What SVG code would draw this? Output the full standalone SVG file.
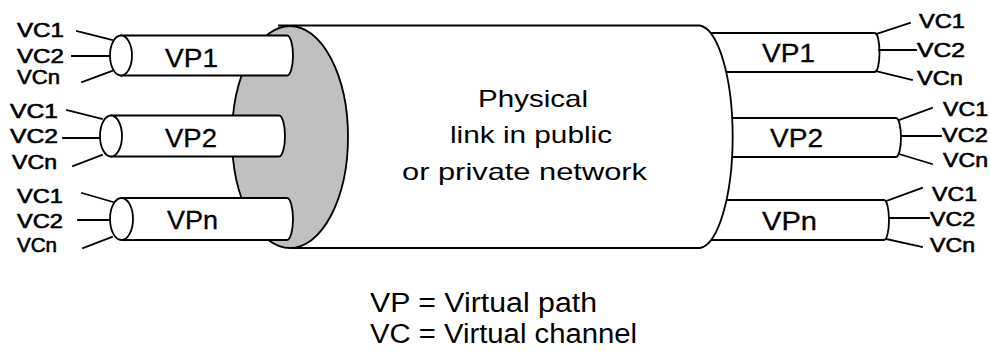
<svg xmlns="http://www.w3.org/2000/svg" width="990" height="351" viewBox="0 0 990 351">
  <style>
    .ln { fill: none; stroke: #000; stroke-width: 1.8; stroke-linecap: square; }
    .tube { fill: #fff; stroke: #000; stroke-width: 1.8; stroke-linejoin: round; }
    .end { fill: #fff; stroke: #000; stroke-width: 1.8; }
    .face { fill: #c0c0c0; stroke: #000; stroke-width: 1.8; }
    .body { fill: #fff; stroke: #000; stroke-width: 1.8; }
    text { font-family: "Liberation Sans", Arial, sans-serif; fill: #000; }
    .vc { font-size: 20px; stroke: #000; stroke-width: 0.6; }
    .vp { font-size: 26px; stroke: #000; stroke-width: 0.3; }
    .mid { font-size: 24px; }
    .key { font-size: 27px; }
  </style>

  <rect width="990" height="351" fill="#fff"/>

  <!-- outgoing virtual paths on the right, drawn first so the link body hides their left ends -->
  <g id="vp1-right">
    <path class="tube" d="M 700 33 L 875 33 A 4.5 19.5 0 0 1 875 72 L 700 72 Z"/>
    <text class="vp" x="762" y="62" textLength="53" lengthAdjust="spacingAndGlyphs">VP1</text>
  </g>
  <g id="vp2-right">
    <path class="tube" d="M 700 118 L 896 118 A 5 19.5 0 0 1 896 157 L 700 157 Z"/>
    <text class="vp" x="770" y="147" textLength="53" lengthAdjust="spacingAndGlyphs">VP2</text>
  </g>
  <g id="vpn-right">
    <path class="tube" d="M 700 200 L 884 200 A 5 20 0 0 1 884 240 L 700 240 Z"/>
    <text class="vp" x="762" y="230" textLength="55" lengthAdjust="spacingAndGlyphs">VPn</text>
  </g>

  <!-- physical link: cylinder body with shaded end face -->
  <g id="physical-link">
    <path class="body" d="M 292 248 L 700 248 A 35 111.5 0 0 0 700 25.5 L 278 25.5"/>
    <ellipse class="face" cx="290" cy="137" rx="58" ry="111"/>
    <text class="mid" x="478" y="107" textLength="110" lengthAdjust="spacingAndGlyphs">Physical</text>
    <text class="mid" x="450" y="143" textLength="162" lengthAdjust="spacingAndGlyphs">link in public</text>
    <text class="mid" x="402" y="180" textLength="245" lengthAdjust="spacingAndGlyphs">or private network</text>
  </g>

  <!-- incoming virtual paths on the left -->
  <g id="vp1-left">
    <path class="tube" d="M 121 35.5 L 287 35.5 A 6 20 0 0 1 287 75.5 L 121 75.5 Z"/>
    <ellipse class="end" cx="121" cy="55.5" rx="11" ry="20"/>
    <text class="vp" x="165" y="67" textLength="53" lengthAdjust="spacingAndGlyphs">VP1</text>
  </g>
  <g id="vp2-left">
    <path class="tube" d="M 111 115.5 L 279 115.5 A 6 20.5 0 0 1 279 156.5 L 111 156.5 Z"/>
    <ellipse class="end" cx="111" cy="136" rx="11" ry="20.5"/>
    <text class="vp" x="165" y="147" textLength="52" lengthAdjust="spacingAndGlyphs">VP2</text>
  </g>
  <g id="vpn-left">
    <path class="tube" d="M 121.5 198 L 287 198 A 6 21 0 0 1 287 240 L 121.5 240 Z"/>
    <ellipse class="end" cx="121.5" cy="219" rx="11.5" ry="21"/>
    <text class="vp" x="167" y="229" textLength="51" lengthAdjust="spacingAndGlyphs">VPn</text>
  </g>

  <!-- virtual channel leads -->
  <g id="connectors">
    <path class="ln" d="M 77 31 L 112 40"/>
    <path class="ln" d="M 72 56 L 110 56"/>
    <path class="ln" d="M 82 82 L 112 71"/>

    <path class="ln" d="M 67 110 L 102 119"/>
    <path class="ln" d="M 63 138 L 100 138"/>
    <path class="ln" d="M 73 166 L 102 155"/>

    <path class="ln" d="M 82 193 L 113 202"/>
    <path class="ln" d="M 78 220 L 110 220"/>
    <path class="ln" d="M 83 248 L 112 237"/>

    <path class="ln" d="M 876 34 L 910 23"/>
    <path class="ln" d="M 879 50 L 916 50"/>
    <path class="ln" d="M 876 71 L 912 80"/>

    <path class="ln" d="M 899 120 L 932 108"/>
    <path class="ln" d="M 901 136 L 941 136"/>
    <path class="ln" d="M 899 154 L 932 164"/>

    <path class="ln" d="M 886 201 L 922 188"/>
    <path class="ln" d="M 889 218 L 929 218"/>
    <path class="ln" d="M 886 239 L 922 247"/>
  </g>

  <!-- channel labels -->
  <g id="vc-left-1">
    <text class="vc" x="17" y="36.5" textLength="47" lengthAdjust="spacingAndGlyphs">VC1</text>
    <text class="vc" x="17" y="63" textLength="47" lengthAdjust="spacingAndGlyphs">VC2</text>
    <text class="vc" x="17" y="84" textLength="43" lengthAdjust="spacingAndGlyphs">VCn</text>
  </g>
  <g id="vc-left-2">
    <text class="vc" x="10" y="118" textLength="48" lengthAdjust="spacingAndGlyphs">VC1</text>
    <text class="vc" x="10" y="142.5" textLength="48" lengthAdjust="spacingAndGlyphs">VC2</text>
    <text class="vc" x="12" y="169" textLength="45" lengthAdjust="spacingAndGlyphs">VCn</text>
  </g>
  <g id="vc-left-n">
    <text class="vc" x="17" y="203" textLength="46" lengthAdjust="spacingAndGlyphs">VC1</text>
    <text class="vc" x="17" y="228" textLength="46" lengthAdjust="spacingAndGlyphs">VC2</text>
    <text class="vc" x="17" y="252" textLength="40" lengthAdjust="spacingAndGlyphs">VCn</text>
  </g>
  <g id="vc-right-1">
    <text class="vc" x="919" y="28" textLength="46" lengthAdjust="spacingAndGlyphs">VC1</text>
    <text class="vc" x="917" y="56.5" textLength="48" lengthAdjust="spacingAndGlyphs">VC2</text>
    <text class="vc" x="917" y="84.5" textLength="46" lengthAdjust="spacingAndGlyphs">VCn</text>
  </g>
  <g id="vc-right-2">
    <text class="vc" x="943" y="116" textLength="45" lengthAdjust="spacingAndGlyphs">VC1</text>
    <text class="vc" x="942" y="142" textLength="46" lengthAdjust="spacingAndGlyphs">VC2</text>
    <text class="vc" x="943" y="166.5" textLength="45" lengthAdjust="spacingAndGlyphs">VCn</text>
  </g>
  <g id="vc-right-n">
    <text class="vc" x="932" y="201" textLength="45" lengthAdjust="spacingAndGlyphs">VC1</text>
    <text class="vc" x="930" y="225.5" textLength="45" lengthAdjust="spacingAndGlyphs">VC2</text>
    <text class="vc" x="930" y="252" textLength="45" lengthAdjust="spacingAndGlyphs">VCn</text>
  </g>

  <!-- key -->
  <g id="legend">
    <text class="key" x="370" y="312" textLength="227" lengthAdjust="spacingAndGlyphs">VP = Virtual path</text>
    <text class="key" x="370" y="343" textLength="267" lengthAdjust="spacingAndGlyphs">VC = Virtual channel</text>
  </g>
</svg>
